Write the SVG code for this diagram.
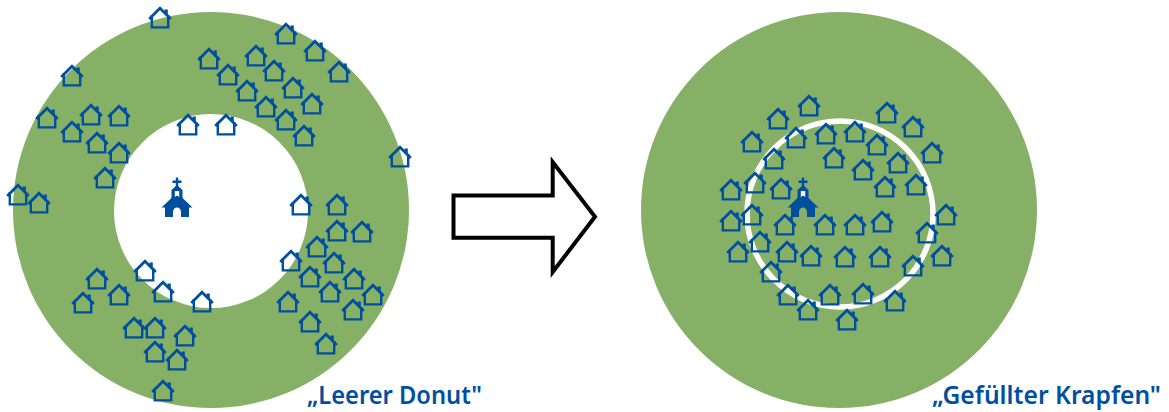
<svg xmlns="http://www.w3.org/2000/svg" xmlns:xlink="http://www.w3.org/1999/xlink" width="1169" height="412" viewBox="0 0 1169 412">
<style>
.d{fill:#87b067}
.l{font-family:"Noto Sans","Open Sans","Liberation Sans",sans-serif;font-size:25px;font-weight:600;fill:#004f9f}
.h{fill:none;stroke:#004f9f}
</style>
<defs>
<g id="house"><path class="h" stroke-width="2.4" d="M-8.2-3V9.4H8.2V-3" /><path class="h" stroke-width="2.7" d="M-10.8 1 0-9.8 10.8 1"/><path fill="#004f9f" d="M4.5-8.5H7.8V-2L4.5-5Z"/></g>
<g id="church" fill="#004f9f"><path d="M-1.2-0.5H1.2V2.5H4.5V5H1.2V9H-1.2V5H-4.5V2.5H-1.2Z"/><path d="M0 7 5.5 12V20H-5.5V12Z"/><path d="M0 16 5 19.5 15.5 29.5H12V39H4V34A4 4.5 0 0 0-4 34V39H-12V29.5H-15.5L-5 19.5Z"/><path fill="#fff" d="M-2.2 13H2.2V19L0 17.5-2.2 19Z"/></g>
</defs>
<rect width="1169" height="412" fill="#fff"/>
<g id="donut"><circle class="d" cx="211" cy="210" r="198"/><circle cx="211" cy="211" r="97" fill="#fff"/></g>
<g id="krapfen"><circle class="d" cx="839" cy="210" r="198"/><circle cx="840" cy="214" r="93" fill="none" stroke="#fff" stroke-width="5.5"/></g>
<g id="arrow"><path d="M453.5 195.5H552.7V162L595 216.7 552.7 272V237.7H453.5Z" fill="#fff" stroke="#000" stroke-width="4"/></g>
<use id="church-left" href="#church" x="177" y="178"/>
<use id="church-right" href="#church" x="803" y="178"/>
<g id="houses-left">
<use href="#house" x="160" y="18"/><use href="#house" x="72" y="76"/><use href="#house" x="47" y="118"/><use href="#house" x="91" y="115"/><use href="#house" x="119" y="116"/><use href="#house" x="72" y="132"/><use href="#house" x="97" y="143"/><use href="#house" x="119" y="153"/><use href="#house" x="105" y="178"/><use href="#house" x="18" y="195"/><use href="#house" x="39" y="203"/><use href="#house" x="188" y="125"/><use href="#house" x="226" y="125"/><use href="#house" x="400" y="157"/><use href="#house" x="286" y="34"/><use href="#house" x="315" y="51"/><use href="#house" x="339" y="72"/><use href="#house" x="209" y="59"/><use href="#house" x="256" y="56"/><use href="#house" x="228" y="75"/><use href="#house" x="274" y="71"/><use href="#house" x="293" y="88"/><use href="#house" x="247" y="91"/><use href="#house" x="312" y="104"/><use href="#house" x="266" y="107"/><use href="#house" x="286" y="120"/><use href="#house" x="304" y="136"/><use href="#house" x="301" y="205"/><use href="#house" x="337" y="205"/><use href="#house" x="337" y="231"/><use href="#house" x="362" y="232"/><use href="#house" x="317" y="247"/><use href="#house" x="291" y="261"/><use href="#house" x="334" y="263"/><use href="#house" x="310" y="277"/><use href="#house" x="354" y="279"/><use href="#house" x="330" y="292"/><use href="#house" x="373" y="295"/><use href="#house" x="288" y="302"/><use href="#house" x="353" y="310"/><use href="#house" x="310" y="322"/><use href="#house" x="326" y="344"/><use href="#house" x="97" y="279"/><use href="#house" x="145" y="271"/><use href="#house" x="163" y="292"/><use href="#house" x="119" y="295"/><use href="#house" x="83" y="303"/><use href="#house" x="202" y="302"/><use href="#house" x="134" y="328"/><use href="#house" x="155" y="328"/><use href="#house" x="185" y="336"/><use href="#house" x="155" y="352"/><use href="#house" x="177" y="360"/><use href="#house" x="163" y="391"/>
</g>
<g id="houses-right">
<use href="#house" x="809" y="106"/><use href="#house" x="778" y="119"/><use href="#house" x="887" y="113"/><use href="#house" x="913" y="127"/><use href="#house" x="752" y="142"/><use href="#house" x="796" y="138"/><use href="#house" x="826" y="134"/><use href="#house" x="855" y="132"/><use href="#house" x="877" y="145"/><use href="#house" x="774" y="159"/><use href="#house" x="834" y="158"/><use href="#house" x="932" y="153"/><use href="#house" x="898" y="163"/><use href="#house" x="863" y="170"/><use href="#house" x="731" y="190"/><use href="#house" x="755" y="183"/><use href="#house" x="781" y="189"/><use href="#house" x="885" y="187"/><use href="#house" x="916" y="185"/><use href="#house" x="946" y="215"/><use href="#house" x="752" y="215"/><use href="#house" x="731" y="221"/><use href="#house" x="785" y="225"/><use href="#house" x="825" y="225"/><use href="#house" x="855" y="225"/><use href="#house" x="882" y="222"/><use href="#house" x="927" y="233"/><use href="#house" x="760" y="242"/><use href="#house" x="738" y="252"/><use href="#house" x="787" y="252"/><use href="#house" x="811" y="256"/><use href="#house" x="845" y="257"/><use href="#house" x="880" y="257"/><use href="#house" x="942" y="256"/><use href="#house" x="913" y="266"/><use href="#house" x="771" y="272"/><use href="#house" x="788" y="295"/><use href="#house" x="830" y="295"/><use href="#house" x="863" y="294"/><use href="#house" x="895" y="301"/><use href="#house" x="808" y="310"/><use href="#house" x="847" y="320"/>
</g>
<text id="label-left" class="l" x="307" y="404" textLength="175" lengthAdjust="spacingAndGlyphs">„Leerer Donut"</text>
<text id="label-right" class="l" x="932" y="404" textLength="229" lengthAdjust="spacingAndGlyphs">„Gefüllter Krapfen"</text>
</svg>
